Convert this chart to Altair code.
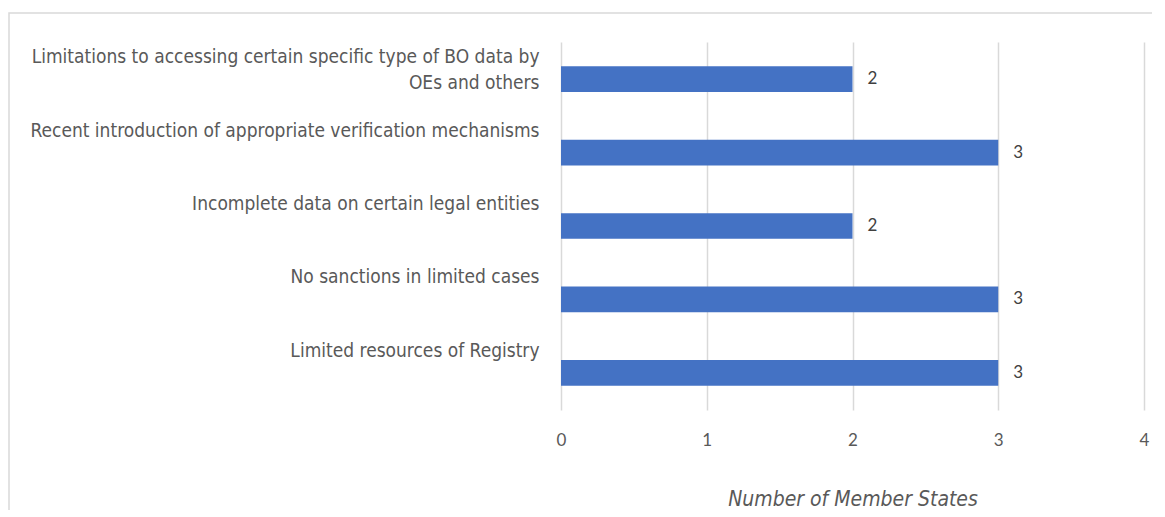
import altair as alt
import pandas as pd

categories = [
    "Limitations to accessing certain specific type of BO data by|OEs and others",
    "Recent introduction of appropriate verification mechanisms",
    "Incomplete data on certain legal entities",
    "No sanctions in limited cases",
    "Limited resources of Registry",
]
values = [2, 3, 2, 3, 3]
x_ticks = [0, 1, 2, 3, 4]
x_title = "Number of Member States"

df = pd.DataFrame({"category": categories, "value": values})

LABEL_FONT = "DejaVu Sans Condensed, Roboto, sans-serif"
NUM_FONT = "Lato, Open Sans, sans-serif"

W, H = 583, 368

base = alt.Chart(df).encode(
    y=alt.Y(
        "category:N",
        sort=categories,
        scale=alt.Scale(paddingInner=0.65, paddingOuter=0.33),
        axis=alt.Axis(
            title=None,
            domain=False,
            ticks=False,
            grid=False,
            labelFont=LABEL_FONT,
            labelFontSize=19,
            labelColor="#595959",
            labelAlign="right",
            labelBaseline="top",
            labelOffset=-31,
            labelPadding=22,
            labelLimit=0,
            labelLineHeight=26,
            labelExpr="split(datum.label, '|')",
        ),
    )
)

bars = base.mark_bar(color="#4472C4").encode(
    x=alt.X(
        "value:Q",
        scale=alt.Scale(domain=[0, 4], nice=False),
        axis=alt.Axis(
            values=x_ticks,
            title=x_title,
            titleFont=LABEL_FONT,
            titleFontSize=21,
            titleFontStyle="italic",
            titleFontWeight="normal",
            titleColor="#595959",
            titlePadding=40,
            labelFont=NUM_FONT,
            labelFontSize=17,
            labelColor="#595959",
            labelPadding=22,
            labelFlush=False,
            domain=False,
            ticks=False,
            grid=True,
            gridColor="#d9d9d9",
            gridWidth=1.5,
            format="d",
        ),
    )
)

text = base.mark_text(
    align="left", baseline="middle", dx=15, font=NUM_FONT, fontSize=17, color="#404040"
).encode(x="value:Q", text="value:Q")

frame = alt.Chart(pd.DataFrame({"f": [0]})).mark_rect(
    fill=None, stroke="#d9d9d9", strokeWidth=1.5
).encode(
    x=alt.value(-552), x2=alt.value(W + 60),
    y=alt.value(-29), y2=alt.value(H + 200),
)

chart = alt.layer(frame, bars, text).properties(
    width=W,
    height=H,
    autosize=alt.AutoSizeParams(type="none"),
    padding={"left": 553, "top": 34, "right": 8, "bottom": 100},
).configure_view(stroke=None)

chart.save("out.html", embed_options={"renderer": "svg", "actions": False})
